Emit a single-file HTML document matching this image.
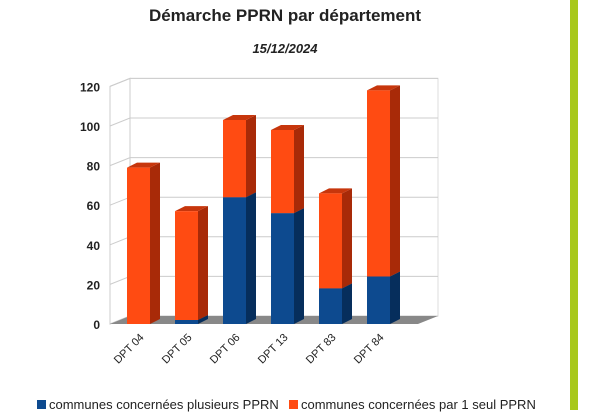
<!DOCTYPE html>
<html><head><meta charset="utf-8"><style>
html,body{margin:0;padding:0;background:#fff;width:600px;height:415px;overflow:hidden}
svg{display:block}
text{font-family:"Liberation Sans",sans-serif}
</style></head><body>
<svg id="chart" width="600" height="415" viewBox="0 0 600 415">
<text x="285" y="21" text-anchor="middle" font-size="17" font-weight="bold" fill="#222">Démarche PPRN par département</text>
<text x="285" y="53" text-anchor="middle" font-size="13" font-weight="bold" font-style="italic" fill="#222">15/12/2024</text>
<rect x="570" y="0" width="8" height="410" fill="#a8c81c"/>
<g id="plot"></g>
<g id="legend">
<g><rect x="37" y="400" width="9" height="9" fill="#0d4a8f"/><text x="49" y="409" font-size="13" fill="#222">communes concernées plusieurs PPRN</text></g>
<g><rect x="289" y="400" width="9" height="9" fill="#ff4b12"/><text x="301" y="409" font-size="13" fill="#222">communes concernées par 1 seul PPRN</text></g>
</g>
</svg>
<script>
const categories=["DPT 04","DPT 05","DPT 06","DPT 13","DPT 83","DPT 84"];
const plusieurs=[0,2,64,56,18,24];
const seul=[79,55,39,42,48,94];
const ticks=[0,20,40,60,80,100,120];

const NS="http://www.w3.org/2000/svg";
const plot=document.getElementById("plot");
const y0=324,scale=237.6/120,dx=20,dy=-8;
const bx0=110,bx1=400,slot=48,firstX=127,bw=23,d=10,dd=-5;
const Y=v=>y0-v*scale;
function el(t,a){const e=document.createElementNS(NS,t);for(const k in a)e.setAttribute(k,a[k]);plot.appendChild(e);return e;}
// walls
let w=el("polygon",{points:`${bx0+dx},${Y(120)+dy} ${bx1+dx+18},${Y(120)+dy} ${bx1+dx+18},${y0+dy} ${bx0+dx},${y0+dy}`,fill:"#fff",stroke:"#ddd"});


let sw=el("polygon",{points:`${bx0},${Y(120)} ${bx0+dx},${Y(120)+dy} ${bx0+dx},${y0+dy} ${bx0},${y0}`,fill:"#fff",stroke:"#ccc"});


ticks.forEach(t=>{
  const g=el("polyline",{points:`${bx0},${Y(t)} ${bx0+dx},${Y(t)+dy} ${bx1+dx+18},${Y(t)+dy}`,fill:"none",stroke:"#ccc","stroke-width":1});
  
  
  const tx=el("text",{x:100,y:Y(t)+5,"text-anchor":"end","font-size":12,"font-weight":"bold",fill:"#222"});
  tx.textContent=t;
  
  
});
const fl=el("polygon",{points:`${bx0},${y0} ${bx0+dx},${y0+dy} ${bx1+dx+18},${y0+dy} ${bx1+18},${y0}`,fill:"#888"});


function box(x,v0,v1,front,side,top,name){
  if(v1<=v0)return;
  const yt=Y(v1),yb=Y(v0);
  const g=document.createElementNS(NS,"g");plot.appendChild(g);
  
  
  const mk=(pts,f)=>{const p=document.createElementNS(NS,"polygon");p.setAttribute("points",pts);p.setAttribute("fill",f);g.appendChild(p);};
  mk(`${x+bw},${yb} ${x+bw+d},${yb+dd} ${x+bw+d},${yt+dd} ${x+bw},${yt}`,side);
  mk(`${x},${yt} ${x+d},${yt+dd} ${x+bw+d},${yt+dd} ${x+bw},${yt}`,top);
  mk(`${x},${yt} ${x+bw},${yt} ${x+bw},${yb} ${x},${yb}`,front);
}
categories.forEach((c,i)=>{
  const x=firstX+i*slot;
  box(x,0,plusieurs[i],"#0d4a8f","#062e5c","#0a3d78","bar-plusieurs-"+i);
  box(x,plusieurs[i],plusieurs[i]+seul[i],"#ff4b12","#a82a08","#c7360c","bar-seul-"+i);
  const t=el("text",{x:x+bw/2+6,y:y0+14,"text-anchor":"end","font-size":11,fill:"#222",transform:`rotate(-45 ${x+bw/2+6} ${y0+14})`});
  t.textContent=c;
  
  
});
</script>
</body></html>
